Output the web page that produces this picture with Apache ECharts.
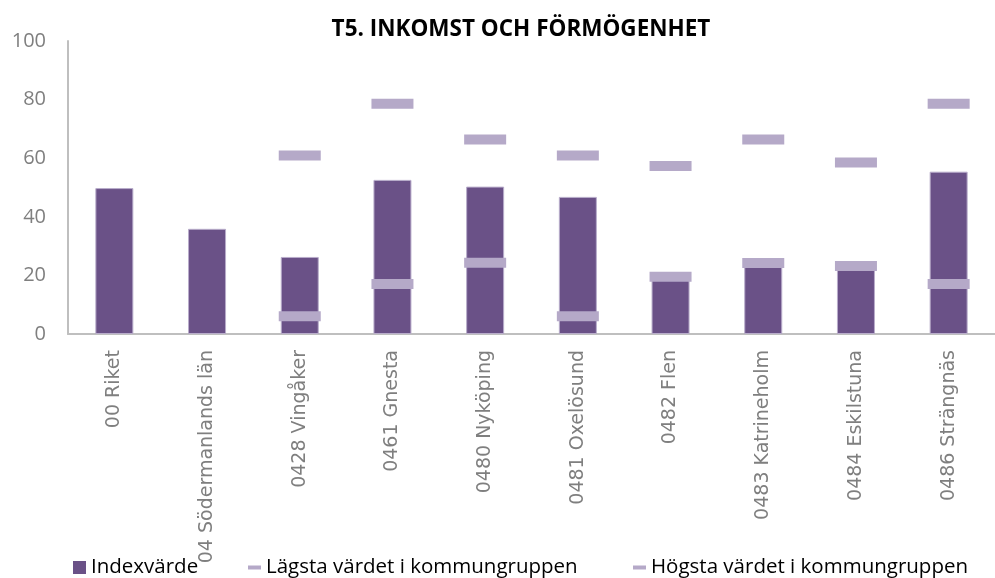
<!DOCTYPE html>
<html>
<head>
<meta charset="utf-8">
<script src="https://cdn.jsdelivr.net/npm/echarts@6/dist/echarts.min.js"></script>
<style>html,body{margin:0;padding:0;background:#fff}#c{width:995px;height:578px}</style>
</head>
<body>
<div id="c"></div>
<script>
const categories = ["00 Riket","04 Södermanlands län","0428 Vingåker","0461 Gnesta","0480 Nyköping","0481 Oxelösund","0482 Flen","0483 Katrineholm","0484 Eskilstuna","0486 Strängnäs"];
const indexValues = [49.8, 35.9, 26.3, 52.6, 50.3, 46.8, 19.0, 23.0, 22.0, 55.4];
const lowestValues = [null, null, 6.1, 17.1, 24.3, 6.1, 19.5, 24.2, 23.2, 17.1];
const highestValues = [null, null, 60.9, 78.6, 66.4, 60.9, 57.3, 66.4, 58.5, 78.6];
const yTicks = [0, 20, 40, 60, 80, 100];
const seriesNames = ["Indexvärde", "Lägsta värdet i kommungruppen", "Högsta värdet i kommungruppen"];

const barColor = '#6A5187';
const markColor = '#B5A9C8';
const chart = echarts.init(document.getElementById('c'), null, {renderer: 'canvas'});
const legendText = {fontFamily: 'Open Sans', fontSize: 20.5, color: '#000'};
const noBorder = {borderWidth: 0};
chart.setOption({
  animation: false,
  title: {
    text: 'T5. INKOMST OCH FÖRMÖGENHET',
    left: 516, top: 13, textAlign: 'center',
    textStyle: {fontFamily: 'Open Sans', fontWeight: 'bold', fontSize: 22.5, color: '#000'}
  },
  legend: [
    {data: [{name: seriesNames[0], icon: 'rect'}], left: 68, top: 552, itemWidth: 13, itemHeight: 13, itemStyle: noBorder, textStyle: legendText},
    {data: [{name: seriesNames[1], icon: 'rect'}], left: 243, top: 552, itemWidth: 13, itemHeight: 4, itemStyle: noBorder, textStyle: legendText},
    {data: [{name: seriesNames[2], icon: 'rect'}], left: 628, top: 552, itemWidth: 13, itemHeight: 4, itemStyle: noBorder, textStyle: legendText}
  ],
  grid: {left: 68, top: 41, right: -13, bottom: 244, containLabel: false},
  xAxis: {
    type: 'category',
    data: categories,
    axisLine: {lineStyle: {color: '#BFBFBF', width: 2}},
    axisTick: {show: false},
    axisLabel: {rotate: 90, interval: 0, margin: 16, fontFamily: 'DejaVu Sans', fontSize: 19, color: '#7F7F7F', verticalAlign: 'middle', align: 'right'}
  },
  yAxis: {
    type: 'value', min: 0, max: 100, interval: 20,
    axisLine: {show: true, lineStyle: {color: '#BFBFBF', width: 2}},
    axisTick: {show: false},
    splitLine: {show: false},
    axisLabel: {margin: 22, fontFamily: 'Open Sans', fontSize: 20, color: '#7F7F7F',
      formatter: v => yTicks.includes(v) ? String(v) : ''}
  },
  series: [
    {name: seriesNames[0], type: 'bar', data: indexValues, barWidth: 38,
      itemStyle: {color: barColor, borderColor: '#B9ADCB', borderWidth: 1}},
    {name: seriesNames[1], type: 'scatter', data: lowestValues, symbol: 'rect', symbolSize: [42, 10],
      itemStyle: {color: markColor, opacity: 1}, z: 3},
    {name: seriesNames[2], type: 'scatter', data: highestValues, symbol: 'rect', symbolSize: [42, 10],
      itemStyle: {color: markColor, opacity: 1}, z: 3}
  ]
});
</script>
</body>
</html>
